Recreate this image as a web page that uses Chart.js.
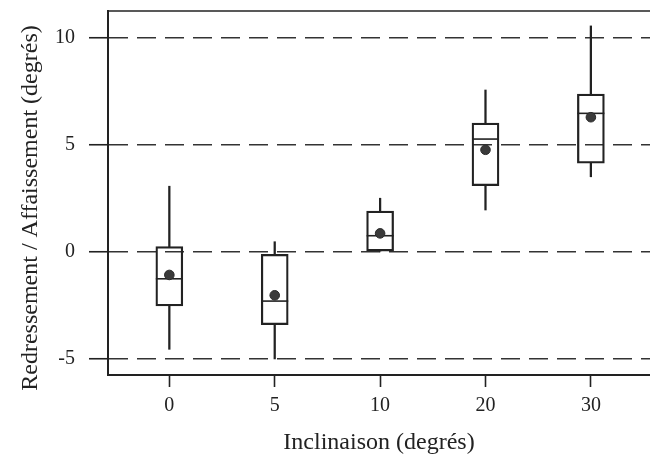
<!DOCTYPE html>
<html>
<head>
<meta charset="utf-8">
<script src="https://cdn.jsdelivr.net/npm/chart.js@4/dist/chart.umd.min.js"></script>
<style>
  html, body { margin: 0; padding: 0; background: #fff; overflow: hidden; }
  canvas { display: block; }
</style>
</head>
<body>
<canvas id="boxChart" width="650" height="456"></canvas>
<script>
// inclinaison categories and box summaries (degrés)
const categories = ['0', '5', '10', '20', '30'];
const whiskerLow = [-4.55, -5.0, 0.0, 1.95, 3.50];
const q1 = [-2.53, -3.40, 0.0, 3.08, 4.13];
const median = [-1.26, -2.30, 0.75, 5.26, 6.46];
const q3 = [0.24, -0.12, 1.90, 6.01, 7.36];
const whiskerHigh = [3.06, 0.47, 2.50, 7.55, 10.54];
const mean = [-1.08, -2.03, 0.86, 4.76, 6.28];
const yTicks = [-5, 0, 5, 10];

const ink = '#222';
const serif = 'Liberation Serif, Times New Roman, serif';
const yTitle = 'Redressement / Affaissement (degrés)';

const idx = categories.map((c, i) => i);

// no extra label padding around the plot area
function noPadding(s) {
  s.paddingTop = 0;
  s.paddingBottom = 0;
  s.paddingLeft = 0;
  s.paddingRight = 0;
}

// top frame line (the plot has no right edge in view) and the y title,
// which sits a bit lower than the plot's middle
const frame = {
  id: 'frame',
  beforeDatasetsDraw(chart) {
    const { ctx, chartArea } = chart;
    ctx.save();
    ctx.strokeStyle = ink;
    ctx.lineWidth = 1.5;
    ctx.beginPath();
    ctx.moveTo(chartArea.left, chartArea.top);
    ctx.lineTo(chartArea.right, chartArea.top);
    ctx.stroke();
    ctx.restore();
  },
  afterDraw(chart) {
    const { ctx, chartArea } = chart;
    ctx.save();
    ctx.translate(31, (chartArea.top + chartArea.bottom) / 2 + 15);
    ctx.rotate(-Math.PI / 2);
    ctx.font = '24px ' + serif;
    ctx.fillStyle = ink;
    ctx.textAlign = 'center';
    ctx.textBaseline = 'middle';
    ctx.fillText(yTitle, 0, 0);
    ctx.restore();
  }
};

new Chart(document.getElementById('boxChart'), {
  type: 'scatter',
  data: {
    datasets: [
      {
        type: 'bar',
        order: 4,
        grouped: false,
        data: idx.map(i => ({ x: i, y: [q3[i], whiskerHigh[i]] })),
        backgroundColor: ink,
        borderWidth: 0,
        barThickness: 1.6
      },
      {
        type: 'bar',
        order: 4,
        grouped: false,
        data: idx.map(i => ({ x: i, y: [whiskerLow[i], q1[i]] })),
        backgroundColor: ink,
        borderWidth: 0,
        barThickness: 1.6
      },
      {
        type: 'bar',
        order: 3,
        grouped: false,
        data: idx.map(i => ({ x: i, y: [q1[i], q3[i]] })),
        backgroundColor: 'rgba(0,0,0,0)',
        borderColor: ink,
        borderWidth: 1.6,
        borderSkipped: false,
        barThickness: 27
      },
      {
        order: 2,
        data: idx.map(i => ({ x: i, y: median[i] })),
        pointStyle: 'line',
        pointRadius: 13.5,
        borderColor: ink,
        borderWidth: 1.6
      },
      {
        order: 1,
        data: idx.map(i => ({ x: i, y: mean[i] })),
        pointStyle: 'circle',
        pointRadius: 4.8,
        backgroundColor: '#3a3a3a',
        borderColor: '#2a2a2a',
        borderWidth: 1
      }
    ]
  },
  options: {
    responsive: false,
    animation: false,
    layout: { autoPadding: false, padding: { top: 11, right: 0, bottom: 0, left: 0 } },
    plugins: {
      legend: { display: false },
      tooltip: { enabled: false }
    },
    scales: {
      x: {
        type: 'linear',
        min: -0.582,
        max: 4.561,
        offset: false,
        afterFit: s => { s.height = 81; noPadding(s); },
        afterBuildTicks: s => { s.ticks = idx.map(v => ({ value: v })); },
        grid: {
          drawOnChartArea: false,
          drawTicks: true,
          tickLength: 12,
          tickWidth: 1.6,
          tickColor: ink,
          offset: false
        },
        border: { display: true, color: ink, width: 2 },
        ticks: {
          padding: 7,
          color: ink,
          font: { family: serif, size: 20 },
          maxRotation: 0,
          callback: v => categories[v]
        },
        title: {
          display: true,
          text: 'Inclinaison (degrés)',
          color: ink,
          font: { family: serif, size: 24, lineHeight: 1.1 },
          padding: { top: 0, bottom: 0 }
        }
      },
      y: {
        type: 'linear',
        min: -5.749,
        max: 11.236,
        afterFit: s => { s.width = 108; noPadding(s); },
        afterBuildTicks: s => { s.ticks = yTicks.map(v => ({ value: v })); },
        grid: {
          color: '#333',
          lineWidth: 1.5,
          drawTicks: true,
          tickLength: 19,
          tickWidth: 1.6,
          tickColor: ink
        },
        border: { display: true, color: ink, width: 2, dash: [19, 9] },
        ticks: {
          padding: 14,
          color: ink,
          font: { family: serif, size: 20 }
        },
        title: { display: false }
      }
    }
  },
  plugins: [frame]
});
</script>
</body>
</html>
